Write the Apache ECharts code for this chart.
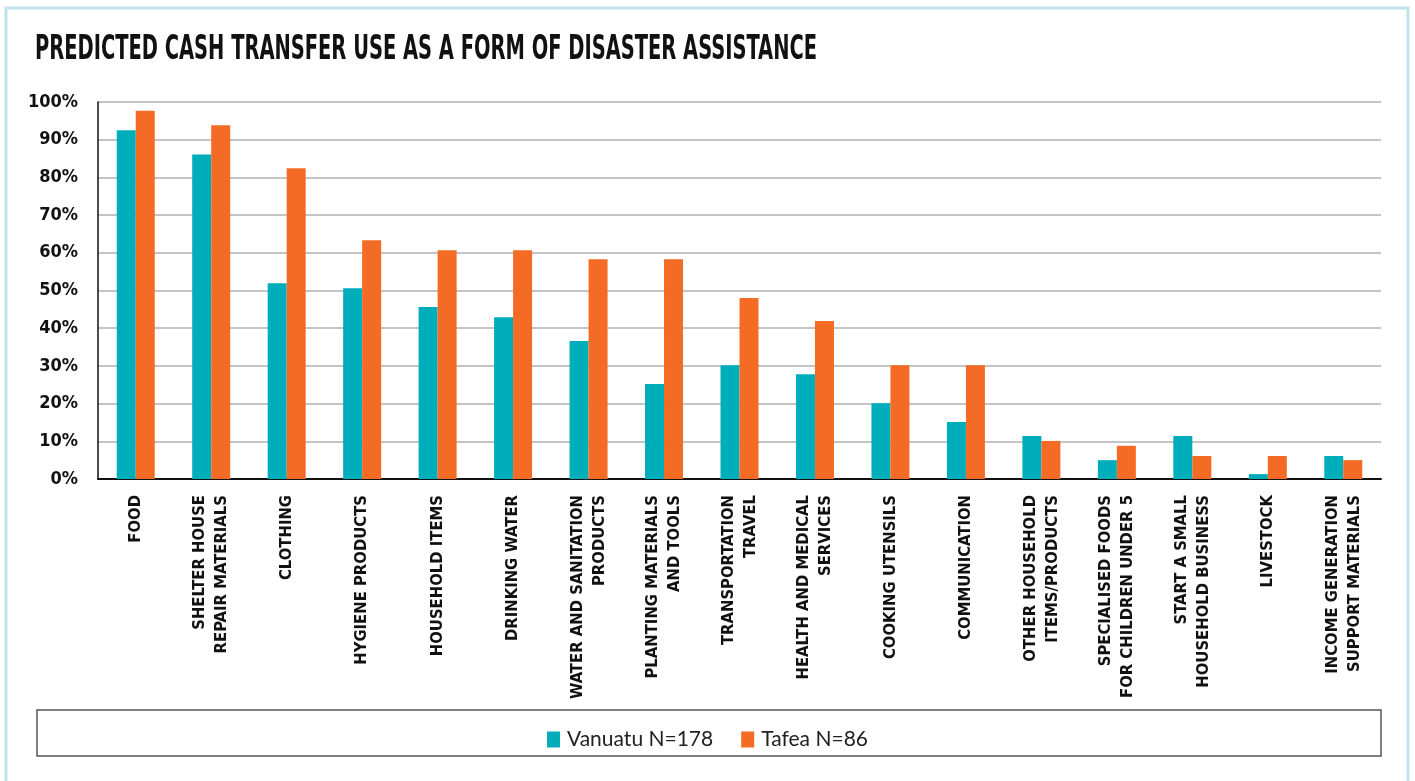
<!DOCTYPE html>
<html>
<head>
<meta charset="utf-8">
<script src="https://cdn.jsdelivr.net/npm/echarts@6/dist/echarts.min.js"></script>
<style>
html,body{margin:0;padding:0;background:#fff;}
#chart{width:1415px;height:781px;}
</style>
</head>
<body>
<div id="chart"></div>
<script>
const titleText = 'PREDICTED CASH TRANSFER USE AS A FORM OF DISASTER ASSISTANCE';
const categories = [
  'FOOD',
  'SHELTER HOUSE\nREPAIR MATERIALS',
  'CLOTHING',
  'HYGIENE PRODUCTS',
  'HOUSEHOLD ITEMS',
  'DRINKING WATER',
  'WATER AND SANITATION\nPRODUCTS',
  'PLANTING MATERIALS\nAND TOOLS',
  'TRANSPORTATION\nTRAVEL',
  'HEALTH AND MEDICAL\nSERVICES',
  'COOKING UTENSILS',
  'COMMUNICATION',
  'OTHER HOUSEHOLD\nITEMS/PRODUCTS',
  'SPECIALISED FOODS\nFOR CHILDREN UNDER 5',
  'START A SMALL\nHOUSEHOLD BUSINESS',
  'LIVESTOCK',
  'INCOME GENERATION\nSUPPORT MATERIALS'
];
const seriesNames = ['Vanuatu N=178', 'Tafea N=86'];
const vanuatu = [92.5, 86.1, 51.9, 50.6, 45.6, 42.9, 36.6, 25.2, 30.2, 27.8, 20.1, 15.1, 11.4, 5.0, 11.4, 1.3, 6.1];
const tafea   = [97.7, 93.8, 82.4, 63.3, 60.7, 60.7, 58.3, 58.3, 48.0, 41.9, 30.2, 30.2, 10.1, 8.8, 6.1, 6.1, 5.0];

const condensed = "'Liberation Sans Narrow', 'DejaVu Sans Condensed', Roboto, sans-serif";

const ctx = document.createElement('canvas').getContext('2d');
function widthAt(text, size) {
  ctx.font = 'bold ' + size + 'px ' + condensed;
  return ctx.measureText(text).width;
}
const titleSize = 34;
const titleScale = Math.min(1, 782 / widthAt(titleText, titleSize));

const chart = echarts.init(document.getElementById('chart'), null, {renderer: 'canvas'});
chart.setOption({
  backgroundColor: '#ffffff',
  animation: false,
  graphic: [
    {type: 'rect', shape: {x: 6, y: 8, width: 1402, height: 790}, style: {fill: 'none', stroke: '#bfe3ea', lineWidth: 3}, z: -1},
    {type: 'rect', shape: {x: 37, y: 710, width: 1344, height: 46}, style: {fill: 'none', stroke: '#555', lineWidth: 1.5}},
    {type: 'text', x: 35, y: 50, scaleX: titleScale, scaleY: 1,
     style: {text: titleText, font: 'bold ' + titleSize + 'px ' + condensed, fill: '#111', verticalAlign: 'middle'}}
  ],
  legend: {
    data: seriesNames,
    left: 'center', top: 724,
    itemWidth: 13, itemHeight: 16, itemGap: 28,
    icon: 'rect',
    textStyle: {fontFamily: "Lato, 'Open Sans', sans-serif", fontSize: 21, color: '#222', padding: [0,0,0,2]}
  },
  grid: {left: 98, right: 34, top: 102, bottom: 302, containLabel: false},
  xAxis: {
    type: 'category',
    data: categories,
    axisLine: {lineStyle: {color: '#111', width: 2}},
    axisTick: {show: false},
    axisLabel: {
      rotate: 90, interval: 0, margin: 16,
      fontFamily: condensed, fontWeight: 'bold', fontSize: 16.5, lineHeight: 22, color: '#111'
    }
  },
  yAxis: {
    type: 'value', min: 0, max: 100, interval: 10,
    axisLine: {show: true, lineStyle: {color: '#111', width: 1.5}},
    axisTick: {show: false},
    splitLine: {lineStyle: {color: '#b0b0b0', width: 1.5}},
    axisLabel: {
      formatter: '{value}%', margin: 20,
      fontFamily: condensed, fontWeight: 'bold', fontSize: 18, color: '#111',
      padding: [8, 0, 0, 0]
    }
  },
  series: [
    {name: seriesNames[0], type: 'bar', data: vanuatu, barWidth: 19, barGap: '0%', itemStyle: {color: '#00aebb'}},
    {name: seriesNames[1], type: 'bar', data: tafea, barWidth: 19, barGap: '0%', itemStyle: {color: '#f36b25'}}
  ]
});
</script>
</body>
</html>
